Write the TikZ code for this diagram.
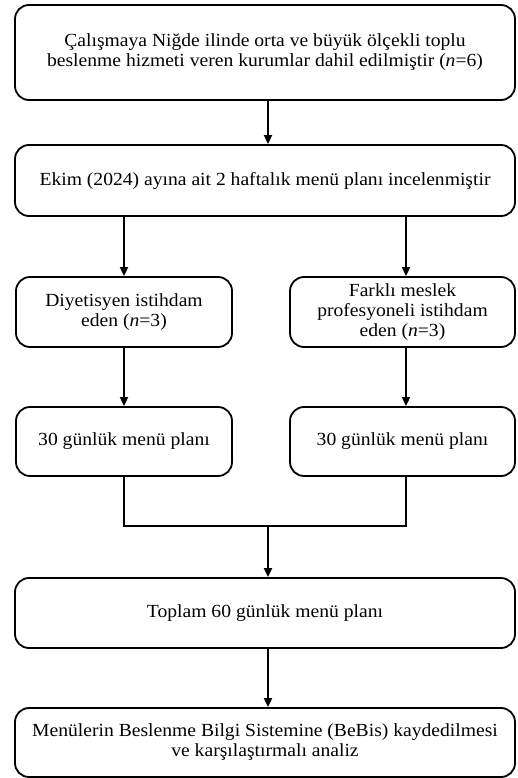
\documentclass[tikz,border=0pt]{standalone}
\usepackage{fontspec}
\setmainfont{Liberation Serif}[FakeStretch=1.06]
\usetikzlibrary{arrows.meta}
\begin{document}
\begin{tikzpicture}[x=1pt,y=-1pt,
  box/.style={draw,line width=1.8pt,rounded corners=14pt,align=center,inner sep=0pt,
    font=\fontsize{18.5}{20}\selectfont},
  conn/.style={line width=1.8pt},
  arr/.style={conn,-{Triangle[length=9pt,width=8pt]}}]
\useasboundingbox (0,0) rectangle (517,778);
\node[box,minimum width=500pt,minimum height=95pt] (b1) at (265,52.5)
  {Çalışmaya Niğde ilinde orta ve büyük ölçekli toplu\\beslenme hizmeti veren kurumlar dahil edilmiştir (\textit{n}=6)};
\node[box,minimum width=500pt,minimum height=71pt] (b2) at (265,180.5)
  {Ekim (2024) ayına ait 2 haftalık menü planı incelenmiştir};
\node[box,minimum width=216pt,minimum height=70pt] (l1) at (124,312)
  {Diyetisyen istihdam\\eden (\textit{n}=3)};
\node[box,minimum width=225pt,minimum height=70pt] (r1) at (402.5,312)
  {Farklı meslek\\profesyoneli istihdam\\eden (\textit{n}=3)};
\node[box,minimum width=216pt,minimum height=69pt] (l2) at (124,441.5)
  {30 günlük menü planı};
\node[box,minimum width=225pt,minimum height=69pt] (r2) at (402.5,441.5)
  {30 günlük menü planı};
\node[box,minimum width=500pt,minimum height=70pt] (b5) at (265,613)
  {Toplam 60 günlük menü planı};
\node[box,minimum width=500pt,minimum height=69pt] (b6) at (265,742.5)
  {Menülerin Beslenme Bilgi Sistemine (BeBis) kaydedilmesi\\ve karşılaştırmalı analiz};
\coordinate (lx) at (124,0);
\coordinate (rx) at (406,0);
\coordinate (cx) at (268,0);
\coordinate (join) at (268,526);
\draw[arr] (b1.south -| cx) -- (b2.north -| cx);
\draw[arr] (b2.south -| lx) -- (l1.north -| lx);
\draw[arr] (b2.south -| rx) -- (r1.north -| rx);
\draw[arr] (l1.south -| lx) -- (l2.north -| lx);
\draw[arr] (r1.south -| rx) -- (r2.north -| rx);
\draw[conn] (l2.south -| lx) |- (join) -| (r2.south -| rx);
\draw[arr] (join) -- (b5.north -| cx);
\draw[arr] (b5.south -| cx) -- (b6.north -| cx);
\end{tikzpicture}
\end{document}
